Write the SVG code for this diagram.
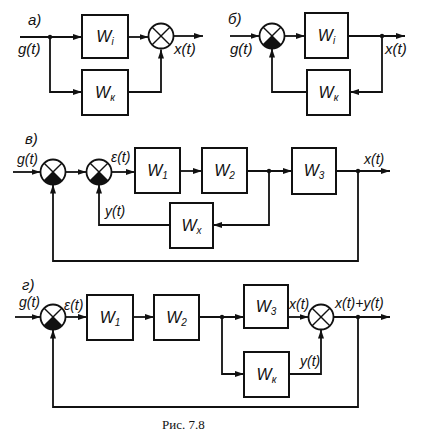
<svg xmlns="http://www.w3.org/2000/svg" width="432" height="432" viewBox="0 0 432 432">
<style>
.b{fill:#fff;stroke:#111;stroke-width:2}
.l{fill:none;stroke:#111;stroke-width:1.8}
.c{fill:#fff;stroke:#111;stroke-width:1.8}
.x{stroke:#111;stroke-width:1.4}
.t{font-family:"Liberation Sans",sans-serif;font-style:italic;font-size:14px;fill:#111}
.tb{font-size:15px}
.w{font-family:"Liberation Sans",sans-serif;font-style:italic;font-size:16px;fill:#111;text-anchor:middle}
.s{font-size:10px}
.d{fill:#111}
</style>
<defs>
<marker id="ar" markerWidth="9" markerHeight="6" refX="9" refY="3" orient="auto" markerUnits="userSpaceOnUse">
<path d="M0,0 L9,3 L0,6 z" fill="#111"/>
</marker>
<g id="sum">
<circle class="c" r="12.5"/>
<line class="x" x1="-8.8" y1="-8.8" x2="8.8" y2="8.8"/>
<line class="x" x1="-8.8" y1="8.8" x2="8.8" y2="-8.8"/>
</g>
<g id="sumn">
<circle class="c" r="12.5"/>
<path d="M0,0 L-8.8,8.8 A12.5,12.5 0 0 0 8.8,8.8 z" fill="#111"/>
<line class="x" x1="-8.8" y1="-8.8" x2="8.8" y2="8.8"/>
<line class="x" x1="-8.8" y1="8.8" x2="8.8" y2="-8.8"/>
</g>
</defs>
<rect width="432" height="432" fill="#fff"/>

<g id="connectors">
<!-- a -->
<path class="l" d="M20,37 H82" marker-end="url(#ar)"/>
<path class="l" d="M50,37 V92 H82" marker-end="url(#ar)"/>
<path class="l" d="M128,37 H148.5" marker-end="url(#ar)"/>
<path class="l" d="M128,92 H161 V49.5" marker-end="url(#ar)"/>
<path class="l" d="M173.5,36 H203" marker-end="url(#ar)"/>
<circle class="d" cx="50" cy="37" r="2.2"/>
<!-- b -->
<path class="l" d="M230,36 H259.5" marker-end="url(#ar)"/>
<path class="l" d="M284.5,36 H305" marker-end="url(#ar)"/>
<path class="l" d="M348,36 H405" marker-end="url(#ar)"/>
<path class="l" d="M382,36 V92 H350" marker-end="url(#ar)"/>
<path class="l" d="M307,92 H272 V48.5" marker-end="url(#ar)"/>
<circle class="d" cx="382" cy="36" r="2.2"/>
<!-- v -->
<path class="l" d="M13,172 H40.5" marker-end="url(#ar)"/>
<path class="l" d="M65.5,172 H86.5" marker-end="url(#ar)"/>
<path class="l" d="M111.5,172 H135" marker-end="url(#ar)"/>
<path class="l" d="M180,171 H202" marker-end="url(#ar)"/>
<path class="l" d="M247,171 H292" marker-end="url(#ar)"/>
<path class="l" d="M336,171 H390" marker-end="url(#ar)"/>
<path class="l" d="M269,171 V225 H213" marker-end="url(#ar)"/>
<path class="l" d="M170,225 H99 V184.5" marker-end="url(#ar)"/>
<path class="l" d="M358,171 V261 H53 V184.5" marker-end="url(#ar)"/>
<circle class="d" cx="269" cy="171" r="2.2"/>
<circle class="d" cx="358" cy="171" r="2.2"/>
<!-- g -->
<path class="l" d="M15,317 H40.5" marker-end="url(#ar)"/>
<path class="l" d="M65.5,317 H87" marker-end="url(#ar)"/>
<path class="l" d="M133,317 H154" marker-end="url(#ar)"/>
<path class="l" d="M199,317 H244" marker-end="url(#ar)"/>
<path class="l" d="M288,317 H308.5" marker-end="url(#ar)"/>
<path class="l" d="M333.5,317 H390" marker-end="url(#ar)"/>
<path class="l" d="M222,317 V374 H244" marker-end="url(#ar)"/>
<path class="l" d="M289,374 H321 V329.5" marker-end="url(#ar)"/>
<path class="l" d="M358,317 V407 H53 V329.5" marker-end="url(#ar)"/>
<circle class="d" cx="222" cy="317" r="2.2"/>
<circle class="d" cx="358" cy="317" r="2.2"/>
</g>

<!-- panel a -->
<g id="a-Wi"><rect class="b" x="82" y="15" width="46" height="43"/><text class="w" x="105" y="42">W<tspan class="s" dy="3">i</tspan></text></g>
<g id="a-Wk"><rect class="b" x="82" y="70" width="46" height="45"/><text class="w" x="105" y="98">W<tspan class="s" dy="3">к</tspan></text></g>
<g id="a-sum"><use href="#sum" x="161" y="36"/></g>
<!-- panel b -->
<g id="b-Wi"><rect class="b" x="305" y="13" width="43" height="45"/><text class="w" x="326.5" y="41">W<tspan class="s" dy="3">i</tspan></text></g>
<g id="b-Wk"><rect class="b" x="307" y="70" width="43" height="45"/><text class="w" x="328.5" y="98">W<tspan class="s" dy="3">к</tspan></text></g>
<g id="b-sum"><use href="#sumn" x="272" y="36"/></g>
<!-- panel v -->
<g id="v-sum1"><use href="#sumn" x="53" y="172"/></g>
<g id="v-sum2"><use href="#sumn" x="99" y="172"/></g>
<g id="v-W1"><rect class="b" x="135" y="148" width="45" height="45"/><text class="w" x="157.5" y="176">W<tspan class="s" dy="3">1</tspan></text></g>
<g id="v-W2"><rect class="b" x="202" y="148" width="45" height="45"/><text class="w" x="224.5" y="176">W<tspan class="s" dy="3">2</tspan></text></g>
<g id="v-W3"><rect class="b" x="292" y="148" width="44" height="46"/><text class="w" x="314" y="176">W<tspan class="s" dy="3">3</tspan></text></g>
<g id="v-Wx"><rect class="b" x="170" y="203" width="43" height="45"/><text class="w" x="191.5" y="231">W<tspan class="s" dy="3">x</tspan></text></g>
<!-- panel g -->
<g id="g-sum1"><use href="#sumn" x="53" y="317"/></g>
<g id="g-W1"><rect class="b" x="87" y="295" width="46" height="45"/><text class="w" x="110" y="323">W<tspan class="s" dy="3">1</tspan></text></g>
<g id="g-W2"><rect class="b" x="154" y="295" width="45" height="45"/><text class="w" x="176.5" y="323">W<tspan class="s" dy="3">2</tspan></text></g>
<g id="g-W3"><rect class="b" x="244" y="285" width="44" height="43"/><text class="w" x="266" y="312">W<tspan class="s" dy="3">3</tspan></text></g>
<g id="g-Wk"><rect class="b" x="244" y="352" width="45" height="45"/><text class="w" x="266.5" y="380">W<tspan class="s" dy="3">к</tspan></text></g>
<g id="g-sum2"><use href="#sum" x="321" y="317"/></g>

<g id="labels">
<text class="t tb" x="28" y="25">а)</text>
<text class="t tb" x="18" y="54">g(t)</text>
<text class="t tb" x="174" y="54">x(t)</text>
<text class="t tb" x="228" y="24">б)</text>
<text class="t tb" x="230" y="54">g(t)</text>
<text class="t tb" x="385" y="54">x(t)</text>
<text class="t tb" x="25" y="144">в)</text>
<text class="t" x="17" y="164">g(t)</text>
<text class="t" x="111" y="162">ε(t)</text>
<text class="t" x="105" y="216">y(t)</text>
<text class="t" x="364" y="164">x(t)</text>
<text class="t tb" x="22" y="290">г)</text>
<text class="t" x="19" y="307">g(t)</text>
<text class="t" x="64" y="310">ε(t)</text>
<text class="t" x="289" y="309">x(t)</text>
<text class="t" x="300" y="366">y(t)</text>
<text class="t" x="335" y="308">x(t)+y(t)</text>
<text x="162" y="429" style="font-family:'Liberation Serif',serif;font-size:13px;fill:#111">Рис. 7.8</text>
</g>
</svg>
